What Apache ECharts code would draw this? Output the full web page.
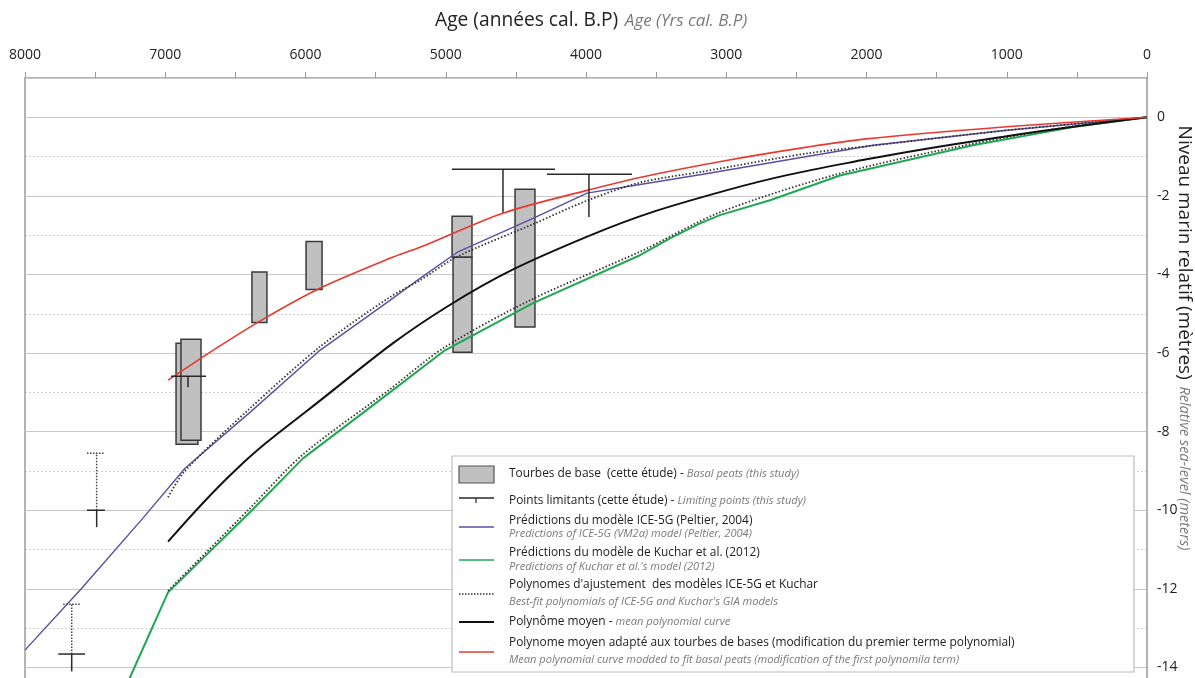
<!DOCTYPE html>
<html>
<head>
<meta charset="utf-8">
<script src="https://cdn.jsdelivr.net/npm/echarts@6.0.0/dist/echarts.min.js"></script>
<style>
html, body { margin: 0; padding: 0; overflow: hidden; background: #fff; }
#chart { width: 1195px; height: 760px; }
</style>
</head>
<body>
<div id="chart"></div>
<script>
// Age axis (years cal. BP) and level axis (m)
const ageMin = 0, ageMax = 8000, ageStep = 500, ageLabelStep = 1000;
const levelMin = -16, levelMax = 1, levelStep = 2;

// Polynôme moyen adapté aux tourbes (rouge)
const redAges   = [6980, 6624, 6289, 5897, 5398, 5184, 4592, 3993, 3615, 3000, 2424, 2000, 1000, 0];
const redLevels = [-6.69, -5.85, -5.11, -4.35, -3.59, -3.31, -2.44, -1.86, -1.53, -1.10, -0.76, -0.55, -0.24, 0];

// ICE-5G (Peltier, 2004)
const iceAges   = [8000, 7594, 7159, 6859, 6396, 5897, 5398, 5184, 4920, 4378, 3993, 3615, 3166, 1954, 998, 0];
const iceLevels = [-13.56, -11.98, -10.20, -8.93, -7.51, -5.93, -4.66, -4.10, -3.44, -2.57, -1.93, -1.71, -1.45, -0.71, -0.33, 0];

// polynome d'ajustement ICE-5G (pointillé)
const iceFitAges   = [6980, 6860, 6400, 5900, 5400, 5184, 4920, 4378, 3993, 3615, 3166, 2424, 1954, 998, 0];
const iceFitLevels = [-9.67, -9.0, -7.42, -5.85, -4.58, -4.15, -3.55, -2.72, -2.12, -1.66, -1.38, -0.92, -0.72, -0.33, 0];

// Kuchar et al. (2012)
const kucharAges   = [7345, 7251, 6980, 6396, 6018, 5398, 5006, 4378, 3615, 3401, 3187, 3045, 2688, 2189, 1241, 528, 0];
const kucharLevels = [-15, -14.25, -12.09, -10.05, -8.68, -7.0, -5.93, -4.73, -3.51, -3.08, -2.70, -2.49, -2.11, -1.48, -0.71, -0.25, 0];

// polynome d'ajustement Kuchar (pointillé)
const kucharFitAges   = [6980, 6396, 6018, 5398, 5006, 4378, 3615, 3045, 2189, 1241, 528, 0];
const kucharFitLevels = [-12.05, -9.95, -8.58, -6.92, -5.85, -4.62, -3.42, -2.42, -1.43, -0.67, -0.23, 0];

// Polynôme moyen (noir)
const meanAges   = [6980, 6500, 6000, 5000, 4000, 3000, 2000, 1000, 0];
const meanLevels = [-10.8, -8.98, -7.5, -4.84, -3.05, -1.86, -1.07, -0.48, 0];

// Tourbes de base: âge gauche, âge droite, haut, bas
const peatAgeOld   = [6923, 6888, 6382, 5996, 4955, 4948, 4506];
const peatAgeYoung = [6767, 6745, 6275, 5882, 4813, 4813, 4364];
const peatTop      = [-5.75, -5.65, -3.94, -3.16, -2.52, -3.56, -1.83];
const peatBottom   = [-8.32, -8.22, -5.22, -4.38, -3.56, -5.98, -5.34];

// Points limitants
const limitAge     = [6838, 4592, 3979, 7489, 7667];
const limitLevel   = [-6.59, -1.32, -1.45, -10.0, -13.66];
const limitOld     = [6959, 4956, 4278, 7558, 7763];
const limitYoung   = [6709, 4221, 3672, 7430, 7572];
const limitLow     = [-6.87, -2.42, -2.54, -10.43, -14.10];
const limitDotTop  = [null, null, null, -8.55, -12.39];
const limitCapOld  = [null, null, null, 7558, 7728];
const limitCapYoung = [null, null, null, 7430, 7608];

const zip = (a, b) => a.map((v, i) => [v, b[i]]);

const dom = document.getElementById('chart');
const myChart = echarts.init(dom, null, { renderer: 'canvas' });

const FONT = '"Open Sans", "Noto Sans", sans-serif';

const renderPeat = (params, api) => {
    const p1 = api.coord([api.value(0), api.value(2)]);
    const p2 = api.coord([api.value(1), api.value(3)]);
    return {
        type: 'rect',
        shape: {
            x: Math.min(p1[0], p2[0]),
            y: Math.min(p1[1], p2[1]),
            width: Math.abs(p2[0] - p1[0]),
            height: Math.abs(p2[1] - p1[1])
        },
        style: { fill: '#c0c0c0', stroke: '#3a3a3a', lineWidth: 1.5 }
    };
};

const renderLimit = (params, api) => {
    const lvl = api.value(1);
    const c = api.coord([api.value(0), lvl]);
    const l = api.coord([api.value(2), lvl]);
    const r = api.coord([api.value(3), lvl]);
    const d = api.coord([api.value(0), api.value(4)]);
    const solid = { stroke: '#2a2a2a', lineWidth: 1.5 };
    const children = [
        { type: 'line', shape: { x1: l[0], y1: l[1], x2: r[0], y2: r[1] }, style: solid },
        { type: 'line', shape: { x1: c[0], y1: c[1], x2: d[0], y2: d[1] }, style: solid }
    ];
    const top = api.value(5);
    if (top !== lvl) {
        const t = api.coord([api.value(0), top]);
        const cl = api.coord([api.value(6), top]);
        const cr = api.coord([api.value(7), top]);
        const dot = { stroke: '#444', lineWidth: 1.5, lineDash: [1.5, 1.5] };
        children.push({ type: 'line', shape: { x1: c[0], y1: c[1], x2: t[0], y2: t[1] }, style: dot });
        children.push({ type: 'line', shape: { x1: cl[0], y1: cl[1], x2: cr[0], y2: cr[1] }, style: dot });
    }
    return { type: 'group', children };
};

const peatData = peatAgeOld.map((v, i) => [v, peatAgeYoung[i], peatTop[i], peatBottom[i]]);
const limitData = limitAge.map((v, i) => [
    v, limitLevel[i], limitOld[i], limitYoung[i], limitLow[i],
    limitDotTop[i] === null ? limitLevel[i] : limitDotTop[i],
    limitCapOld[i] === null ? v : limitCapOld[i],
    limitCapYoung[i] === null ? v : limitCapYoung[i]
]);

const lineSeries = (name, ages, levels, color, width, type, smooth) => ({
    name: name,
    type: 'line',
    data: zip(ages, levels),
    showSymbol: false,
    smooth: smooth,
    z: 3,
    lineStyle: { color: color, width: width, type: type },
    silent: true
});

// légende faite à la main (entrées sur deux lignes)
const legX = 452, legY = 456;
const txt = (y, main, sub) => ({
    type: 'text', x: 509, y: y, z: 101,
    style: {
        text: sub ? '{a|' + main + '}{b|' + sub + '}' : '{a|' + main + '}',
        textVerticalAlign: 'middle',
        rich: {
            a: { fontFamily: FONT, fontSize: 11.9, fill: '#222' },
            b: { fontFamily: FONT, fontSize: 11.1, fontStyle: 'italic', fill: '#7a7a7a' }
        }
    }
});
const txtIt = (y, s) => ({
    type: 'text', x: 509, y: y, z: 101,
    style: { text: s, fontFamily: FONT, fontSize: 11.1, fontStyle: 'italic', fill: '#7a7a7a', textVerticalAlign: 'middle' }
});
const swatch = (y, color, width, dash) => ({
    type: 'line', z: 101,
    shape: { x1: 459, y1: y, x2: 494, y2: y },
    style: { stroke: color, lineWidth: width, lineDash: dash || null }
});

const option = {
    animation: false,
    backgroundColor: '#fff',
    grid: { left: 25, right: 48, top: 78, bottom: 14 },
    xAxis: {
        type: 'value',
        position: 'top',
        inverse: true,
        min: ageMin,
        max: ageMax,
        interval: ageStep,
        axisLine: { show: true, onZero: false, lineStyle: { color: '#9a9a9a', width: 1.5 } },
        axisTick: { show: true, length: 6, lineStyle: { color: '#9a9a9a', width: 1 } },
        axisLabel: {
            margin: 16,
            fontFamily: FONT,
            fontSize: 14,
            color: '#222',
            formatter: (v) => (v % ageLabelStep === 0 ? String(v) : '')
        },
        splitLine: { show: false }
    },
    yAxis: [
        {
            type: 'value',
            position: 'right',
            min: levelMin,
            max: levelMax,
            interval: levelStep,
            z: 1,
            axisLine: { show: true, onZero: false, lineStyle: { color: '#9a9a9a', width: 1.5 } },
            axisTick: { show: false },
            axisLabel: { margin: 10, fontFamily: FONT, fontSize: 14, color: '#222', showMaxLabel: false },
            splitLine: { show: true, lineStyle: { color: '#c8c8c8', width: 1 } }
        },
        {
            type: 'value',
            position: 'left',
            min: levelMin,
            max: levelMax,
            interval: 1,
            z: 0,
            axisLine: { show: true, onZero: false, lineStyle: { color: '#9a9a9a', width: 1.5 } },
            axisTick: { show: false },
            axisLabel: { show: false },
            splitLine: { show: true, lineStyle: { color: '#d2d2d2', width: 1, type: [2, 2] } }
        }
    ],
    graphic: [
        {
            type: 'text', x: 435, y: 21, z: 100,
            style: {
                text: '{a|Age (années cal. B.P)}  {b|Age (Yrs cal. B.P)}',
                textVerticalAlign: 'middle',
                rich: {
                    a: { fontFamily: FONT, fontSize: 19.2, fill: '#222' },
                    b: { fontFamily: FONT, fontSize: 17, fontStyle: 'italic', fill: '#7a7a7a' }
                }
            }
        },
        {
            type: 'text', x: 1184, y: 338, rotation: -Math.PI / 2, z: 100,
            style: {
                text: '{a|Niveau marin relatif (mètres)}  {b|Relative sea-level (meters)}',
                textAlign: 'center',
                textVerticalAlign: 'middle',
                rich: {
                    a: { fontFamily: FONT, fontSize: 19, fill: '#222' },
                    b: { fontFamily: FONT, fontSize: 14.5, fontStyle: 'italic', fill: '#7a7a7a' }
                }
            }
        },
        {
            type: 'rect', z: 100,
            shape: { x: legX, y: legY, width: 682, height: 216 },
            style: { fill: '#fff', stroke: '#bdbdbd', lineWidth: 1.2 }
        },
        {
            type: 'rect', z: 101,
            shape: { x: 459, y: 466, width: 35, height: 17 },
            style: { fill: '#c0c0c0', stroke: '#555', lineWidth: 1.2 }
        },
        swatch(498, '#2a2a2a', 1.5),
        { type: 'line', z: 101, shape: { x1: 476, y1: 498, x2: 476, y2: 503 }, style: { stroke: '#2a2a2a', lineWidth: 1.2 } },
        swatch(527, '#5b4ea3', 1.5),
        swatch(560, '#1fa84f', 1.5),
        swatch(594, '#333', 1.5, [1.5, 1.5]),
        swatch(622, '#111', 2),
        swatch(652, '#e8392f', 1.5),
        txt(474, 'Tourbes de base  (cette étude) - ', 'Basal peats (this study)'),
        txt(501, 'Points limitants (cette étude) - ', 'Limiting points (this study)'),
        txt(521, 'Prédictions du modèle ICE-5G (Peltier, 2004)'),
        txtIt(534, 'Predictions of ICE-5G (VM2a) model (Peltier, 2004)'),
        txt(553, 'Prédictions du modèle de Kuchar et al. (2012)'),
        txtIt(567, 'Predictions of Kuchar et al.\'s model (2012)'),
        txt(585, 'Polynomes d\'ajustement  des modèles ICE-5G et Kuchar'),
        txtIt(602, 'Best-fit polynomials of ICE-5G and Kuchar\'s GIA models'),
        txt(622, 'Polynôme moyen - ', 'mean polynomial curve'),
        txt(643, 'Polynome moyen adapté aux tourbes de bases (modification du premier terme polynomial)'),
        txtIt(660, 'Mean polynomial curve modded to fit basal peats (modification of the first polynomila term)')
    ],
    series: [
        {
            name: 'Tourbes de base',
            type: 'custom',
            renderItem: renderPeat,
            data: peatData,
            encode: { x: [0, 1], y: [2, 3] },
            z: 1,
            silent: true
        },
        lineSeries('ICE-5G', iceAges, iceLevels, '#5b4ea3', 1.4, 'solid', false),
        lineSeries('Kuchar', kucharAges, kucharLevels, '#1fa84f', 2, 'solid', false),
        lineSeries('Fit ICE-5G', iceFitAges, iceFitLevels, '#333', 1.8, [1.5, 2], 0.3),
        lineSeries('Fit Kuchar', kucharFitAges, kucharFitLevels, '#333', 1.8, [1.5, 2], 0.3),
        lineSeries('Polynôme moyen', meanAges, meanLevels, '#111', 2, 'solid', 0.4),
        lineSeries('Polynome moyen adapté', redAges, redLevels, '#e8392f', 1.6, 'solid', 0.3),
        {
            name: 'Points limitants',
            type: 'custom',
            renderItem: renderLimit,
            data: limitData,
            encode: { x: [0, 2, 3], y: [1, 4, 5] },
            z: 4,
            silent: true
        }
    ]
};

myChart.setOption(option);
window.addEventListener('resize', myChart.resize);
</script>
</body>
</html>
